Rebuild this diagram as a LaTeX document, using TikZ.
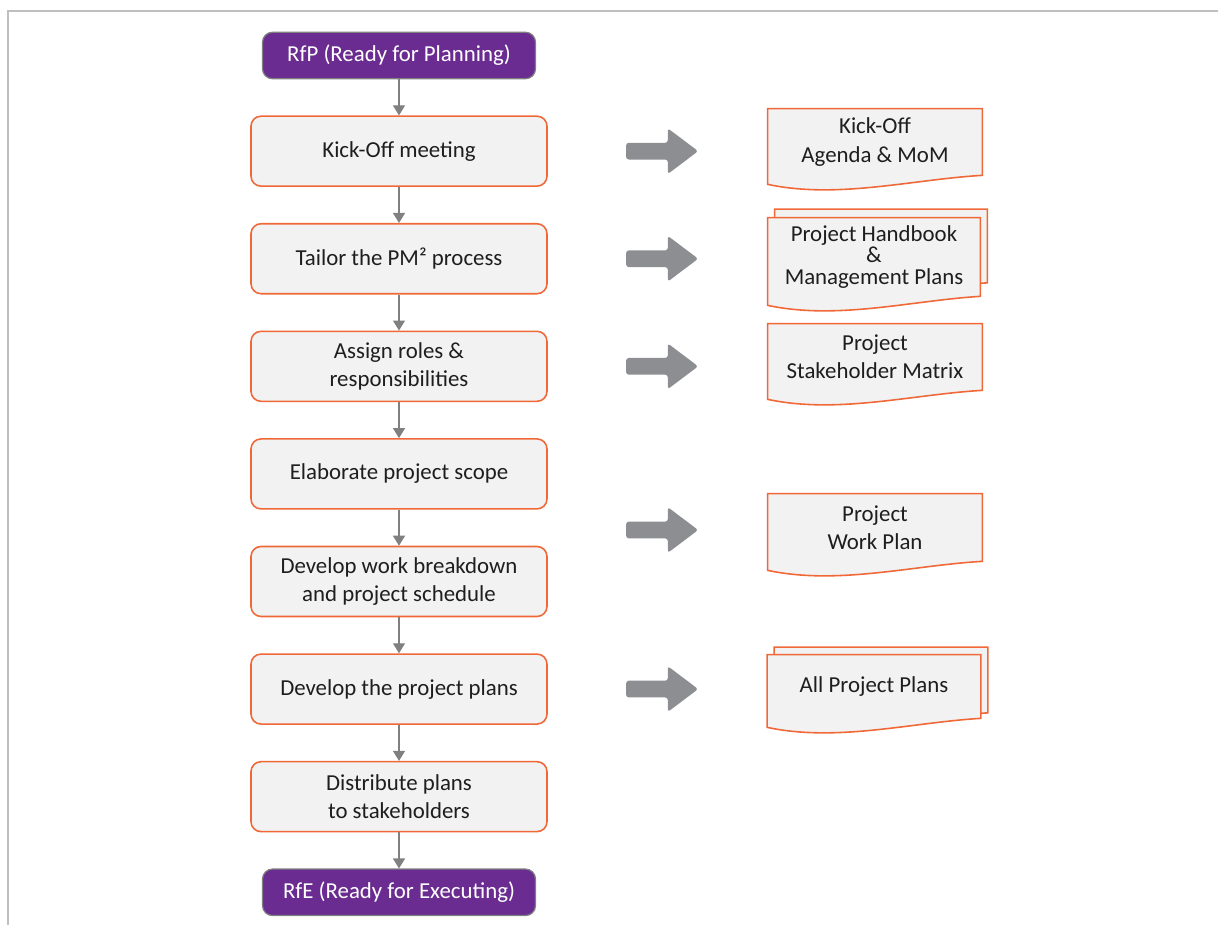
\documentclass[tikz,border=0pt]{standalone}
\usepackage{fontspec}
\setmainfont{Carlito}
\usetikzlibrary{arrows.meta,calc,positioning,shapes.arrows,backgrounds}
\definecolor{pmpurple}{RGB}{106,44,144}
\definecolor{pmorange}{RGB}{240,104,56}
\definecolor{pmfill}{RGB}{242,242,242}
\definecolor{pmgray}{RGB}{128,128,128}
\definecolor{pmblock}{RGB}{140,142,145}
\definecolor{pmframe}{RGB}{191,191,191}
\definecolor{pmtext}{RGB}{30,30,30}
\tikzset{
    node distance = 0.72cm and 1.56cm,
    font=\fontsize{13}{16}\selectfont,
    gate/.style = {rectangle, rounded corners=0.2cm, draw=pmgray, line width=0.7pt, fill=pmpurple, text=white, minimum width=5.46cm, minimum height=0.93cm},
    task/.style = {rectangle, rounded corners=0.2cm, draw=pmorange, line width=0.9pt, fill=pmfill, text=pmtext, minimum width=5.92cm, minimum height=1.4cm, align=center},
    flow/.style = {draw=pmgray, line width=0.7pt, -{Triangle[length=0.2cm,width=0.24cm]}},
    handover/.style = {single arrow, fill=pmblock, minimum height=1.44cm, inner sep=0.16cm, single arrow head extend=0.29cm, single arrow tip angle=74, rounded corners=1.5pt},
    docbox/.style = {rectangle, minimum width=4.28cm, minimum height=1.32cm, inner sep=0pt, text=pmtext, align=center},
    docline/.style = {draw=pmorange, line width=0.9pt, fill=pmfill}
}
% document outline with a wavy bottom, drawn round a named node
\newcommand{\docpath}[1]{\path[docline] (#1.north west) -- (#1.north east) -- (#1.south east)
    .. controls ($(#1.south west)+(2.9,-0.08)$) and ($(#1.south west)+(1.4,-0.48)$)
    .. ($(#1.south west)+(0,-0.18)$) -- cycle;}

\begin{document}
\begin{tikzpicture}
    \useasboundingbox (0,0) rectangle (24.36,-18.5);
    \draw[pmframe, line width=1.2pt] (0.16,-18.5) -- (0.16,-0.22) -- (24.36,-0.22);

    \node[gate] (rfp) at (7.98,-1.11) {RfP (Ready for Planning)};
    \node[task] (kick) [below = of rfp] {Kick-Off meeting};
    \node[task] (tailor) [below = of kick] {Tailor the PM² process};
    \node[task] (roles) [below = of tailor] {Assign roles \&\\responsibilities};
    \node[task] (scope) [below = of roles] {Elaborate project scope};
    \node[task] (wbs) [below = of scope] {Develop work breakdown\\and project schedule};
    \node[task] (plans) [below = of wbs] {Develop the project plans};
    \node[task] (dist) [below = of plans] {Distribute plans\\to stakeholders};
    \node[gate] (rfe) [below = of dist] {RfE (Ready for Executing)};

    \foreach \a/\b in {rfp/kick, kick/tailor, tailor/roles, roles/scope, scope/wbs, wbs/plans, plans/dist, dist/rfe}
        \draw[flow] (\a) -- (\b);

    \coordinate (wp) at (0,-10.6);
    \node[handover] (h1) [right = of kick] {};
    \node[handover] (h2) [right = of tailor] {};
    \node[handover] (h3) [right = of roles] {};
    \node[handover, anchor=west] (h4) at (h1.west |- wp) {};
    \node[handover] (h5) [right = of plans] {};

    \node[docbox] (d1) at (17.5,-2.84) {Kick-Off\\Agenda \& MoM};
    \node[docbox, minimum height=1.46cm, minimum width=4.24cm] (d2b) at (17.62,-4.92) {};
    \node[docbox, minimum height=1.56cm, minimum width=4.24cm, font=\fontsize{13}{12.5}\selectfont] (d2) at (17.48,-5.14) {Project Handbook\\\&\\Management Plans};
    \node[docbox] (d3) at (17.5,-7.14) {Project\\Stakeholder Matrix};
    \node[docbox, minimum height=1.34cm] (d4) at (17.5,-10.55) {Project\\Work Plan};
    \node[docbox, minimum height=1.3cm, minimum width=4.26cm] (d5b) at (17.62,-13.6) {};
    \node[docbox, minimum height=1.26cm, minimum width=4.26cm] (d5) at (17.48,-13.73) {All Project Plans};

    \begin{scope}[on background layer]
        \docpath{d1}
        \docpath{d2b}
        \docpath{d2}
        \docpath{d3}
        \docpath{d4}
        \docpath{d5b}
        \docpath{d5}
    \end{scope}
\end{tikzpicture}
\end{document}
